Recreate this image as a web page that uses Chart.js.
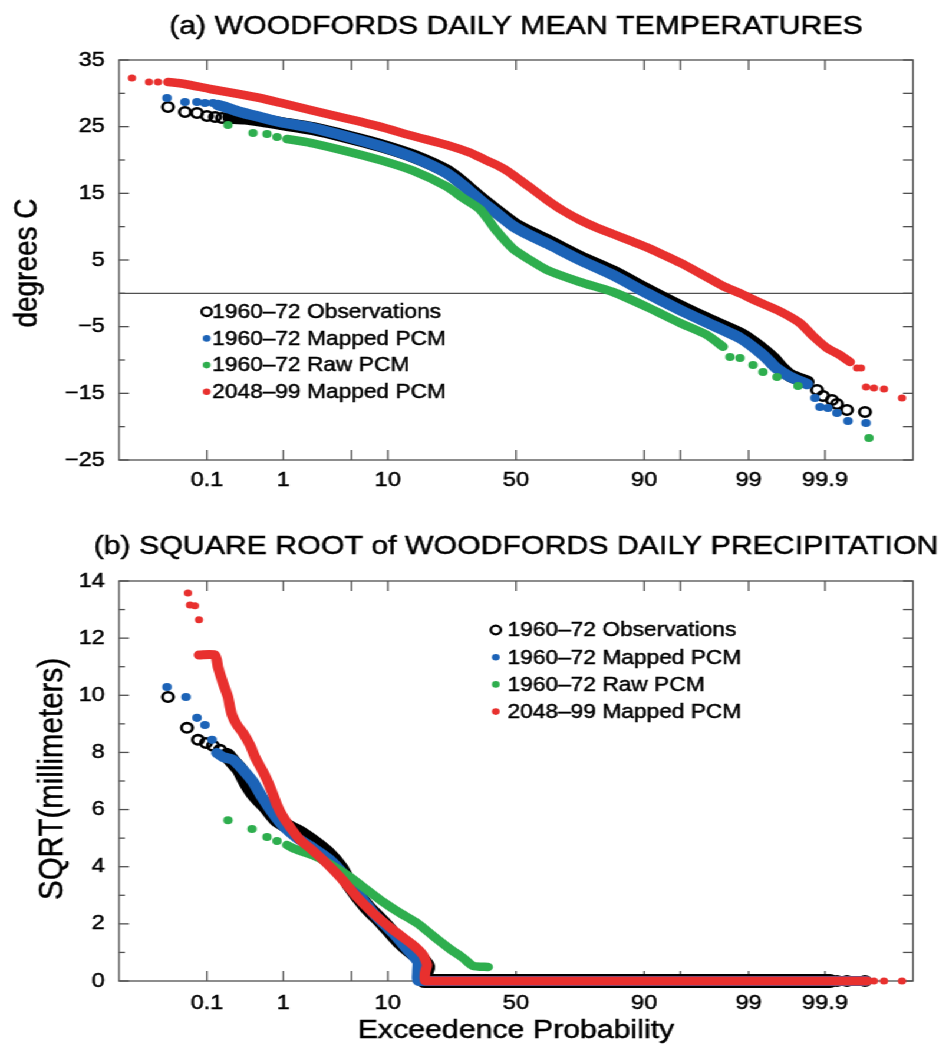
<!DOCTYPE html>
<html><head><meta charset="utf-8">
<script src="https://cdn.jsdelivr.net/npm/chart.js@4.4.1/dist/chart.umd.min.js"></script>
<style>
html,body{margin:0;padding:0;background:#fff;overflow:hidden;}
#wrap{position:absolute;left:0;top:0;width:805px;height:1045px;transform:scaleX(1.17888);transform-origin:0 0;}
.box{position:relative;width:805px;}
canvas{display:block;}
</style></head><body>
<div id="wrap">
 <div class="box" style="height:520px"><canvas id="c1" width="805" height="520"></canvas></div>
 <div class="box" style="height:525px"><canvas id="c2" width="805" height="525"></canvas></div>
</div>
<script>
// ---- axis definitions ----
const PROB_TICKS = [0.1, 1, 5, 10, 50, 90, 95, 99, 99.9];           // exceedence probability, %
const PROB_TICK_LABELS = ['0.1', '1', '', '10', '50', '90', '', '99', '99.9'];
const TEMP_Y_TICKS = [-25, -15, -5, 5, 15, 25, 35];
const TEMP_Y_MINOR = [-20, -10, 0, 10, 20, 30];
const PRECIP_Y_TICKS = [0, 2, 4, 6, 8, 10, 12, 14];
const PRECIP_Y_MINOR = [1, 3, 5, 7, 9, 11, 13];
const LEGEND_LABELS = ['1960\u201372 Observations', '1960\u201372 Mapped PCM', '1960\u201372 Raw PCM', '2048\u201399 Mapped PCM'];

// ---- data: [normal score of exceedence probability, value] ----
// (a) daily mean temperature, degrees C
const tempObsCurve = [[-2.86,26.4],[-2.71,26.3],[-2.56,26.0],[-2.36,25.5],[-2.03,24.7],[-1.69,23.5],[-1.36,22.2],[-1.03,20.6],[-0.69,18.3],[-0.53,16.5],[-0.36,14.3],[-0.19,12.3],[-0.03,10.5],[0.14,9.1],[0.31,7.9],[0.64,5.4],[0.97,3.2],[1.31,0.5],[1.64,-2.0],[1.91,-3.9],[2.24,-6.1],[2.41,-7.8],[2.57,-9.8],[2.64,-11.0],[2.74,-12.3],[2.91,-13.3]];
const tempObsTails = [[-3.48,27.95],[-3.31,27.2],[-3.19,27.05],[-3.09,26.6],[-3.01,26.45],[-2.94,26.3],[3.01,-14.5],[3.07,-15.4],[3.16,-16.0],[3.21,-16.6],[3.31,-17.5],[3.49,-17.8]];
const tempMappedCurve = [[-2.98,28.25],[-2.91,27.95],[-2.76,27.2],[-2.56,26.45],[-2.36,25.7],[-2.03,24.8],[-1.69,23.5],[-1.36,22.1],[-1.03,20.4],[-0.69,18.0],[-0.53,16.2],[-0.36,14.0],[-0.19,12.0],[-0.03,10.1],[0.14,8.7],[0.31,7.5],[0.64,5.0],[0.97,2.75],[1.31,0.0],[1.64,-2.5],[1.91,-4.4],[2.24,-6.7],[2.47,-9.25],[2.61,-11.3],[2.74,-12.5],[2.91,-13.6]];
const tempMappedTails = [[-3.49,29.3],[-3.31,28.7],[-3.19,28.7],[-3.11,28.55],[-3.03,28.55],[2.99,-15.7],[3.04,-17.05],[3.12,-17.2],[3.21,-17.95],[3.32,-19.15],[3.50,-19.45]];
const tempRawCurve = [[-2.29,23.15],[-2.16,22.85],[-2.03,22.5],[-1.69,21.3],[-1.36,20.0],[-1.03,18.4],[-0.69,16.0],[-0.53,14.3],[-0.36,12.6],[-0.19,9.3],[-0.03,6.7],[0.14,5.0],[0.31,3.5],[0.64,1.7],[0.97,0.2],[1.31,-2.05],[1.64,-4.45],[1.91,-6.25],[2.07,-8.0]];
const tempRawTails = [[-2.88,25.25],[-2.63,24.05],[-2.49,23.9],[-2.39,23.45],[2.14,-9.55],[2.24,-9.7],[2.37,-10.75],[2.47,-11.8],[2.61,-12.55],[2.82,-13.9],[3.53,-21.7]];
const tempFutureCurve = [[-3.48,31.7],[-3.38,31.55],[-3.26,31.25],[-3.06,30.65],[-2.83,30.05],[-2.56,29.3],[-2.36,28.6],[-2.03,27.4],[-1.69,26.2],[-1.36,25.0],[-1.03,23.6],[-0.69,22.25],[-0.46,21.1],[-0.36,20.4],[-0.2,19.3],[-0.08,18.3],[0.04,17.0],[0.14,15.9],[0.31,14.0],[0.47,12.4],[0.64,11.0],[0.8,9.9],[0.97,8.9],[1.14,7.9],[1.31,6.9],[1.47,5.8],[1.64,4.6],[1.84,3.0],[2.07,1.1],[2.24,0.0],[2.41,-1.2],[2.64,-2.7],[2.84,-4.45],[2.97,-6.4],[3.11,-8.2],[3.24,-9.25],[3.34,-10.3]];
const tempFutureTails = [[-3.84,32.3],[-3.67,31.7],[-3.58,31.7],[3.41,-11.2],[3.45,-11.2],[3.50,-14.05],[3.58,-14.2],[3.68,-14.35],[3.86,-15.7]];

// (b) square root of daily precipitation, sqrt(mm)
const precipObsCurve = [[-2.89,7.91],[-2.83,7.67],[-2.76,7.39],[-2.69,6.93],[-2.61,6.51],[-2.49,6.06],[-2.39,5.64],[-2.26,5.36],[-2.16,5.18],[-2.03,4.87],[-1.89,4.48],[-1.76,3.96],[-1.66,3.36],[-1.49,2.59],[-1.33,2.03],[-1.16,1.37],[-1.03,0.98],[-0.94,0.74],[-0.89,0.49],[-0.91,0.28],[-0.91,0],[3.14,0]];
const precipObsTails = [[-3.48,9.94],[-3.29,8.86],[-3.18,8.44],[-3.10,8.33],[-3.03,8.23],[-2.96,8.09],[3.21,0],[3.31,0],[3.49,0]];
const precipMappedCurve = [[-2.99,7.98],[-2.93,7.84],[-2.83,7.74],[-2.73,7.39],[-2.63,6.97],[-2.54,6.44],[-2.44,5.92],[-2.33,5.43],[-2.19,5.01],[-2.03,4.66],[-1.86,4.24],[-1.71,3.68],[-1.56,2.98],[-1.41,2.31],[-1.23,1.68],[-1.09,1.12],[-0.98,0.67],[-0.98,0.32],[-0.97,0],[3.50,0]];
const precipMappedTails = [[-3.49,10.29],[-3.30,9.94],[-3.19,9.21],[-3.11,8.96],[-3.04,8.44]];
const precipRawCurve = [[-2.29,4.76],[-2.23,4.65],[-2.13,4.52],[-1.99,4.34],[-1.83,4.03],[-1.66,3.64],[-1.49,3.19],[-1.33,2.77],[-1.16,2.38],[-0.99,2.03],[-0.83,1.58],[-0.66,1.12],[-0.53,0.81],[-0.43,0.53],[-0.28,0.49]];
const precipRawTails = [[-2.88,5.63],[-2.64,5.32],[-2.49,5.04],[-2.39,4.90]];
const precipFutureCurve = [[-3.17,11.41],[-3.01,11.41],[-2.98,10.99],[-2.93,10.43],[-2.88,9.94],[-2.86,9.59],[-2.84,9.31],[-2.79,8.96],[-2.73,8.68],[-2.66,8.26],[-2.61,7.84],[-2.54,7.39],[-2.49,7.04],[-2.44,6.62],[-2.39,6.16],[-2.34,5.81],[-2.26,5.39],[-2.16,4.94],[-2.04,4.59],[-1.93,4.24],[-1.76,3.64],[-1.59,2.94],[-1.43,2.38],[-1.23,1.79],[-1.03,1.26],[-0.93,0.91],[-0.89,0.56],[-0.91,0.28],[-0.90,0],[3.51,0]];
const precipFutureTails = [[-3.28,13.58],[-3.26,13.16],[-3.21,13.13],[-3.17,12.64],[3.58,0],[3.68,0],[3.86,0]];

// ---- styles ----
const FONT = '"Liberation Sans", Arial, Helvetica, sans-serif';
const C_OBS = '#000000', C_MAP = '#1c63b7', C_RAW = '#2eae4e', C_FUT = '#e8302e';
const AXIS_C = '#505050';
const TEXT_STROKE = 0.45;

function probit(p) {
  const a=[-3.969683028665376e+01,2.209460984245205e+02,-2.759285104469687e+02,1.383577518672690e+02,-3.066479806614716e+01,2.506628277459239e+00];
  const b=[-5.447609879822406e+01,1.615858368580409e+02,-1.556989798598866e+02,6.680131188771972e+01,-1.328068155288572e+01];
  const c=[-7.784894002430293e-03,-3.223964580411365e-01,-2.400758277161838e+00,-2.549732539343734e+00,4.374664141464968e+00,2.938163982698783e+00];
  const d=[7.784695709041462e-03,3.224671290700398e-01,2.445134137142996e+00,3.754408661907416e+00];
  const pl=0.02425, ph=1-pl; let q, r;
  if (p < pl) { q=Math.sqrt(-2*Math.log(p)); return (((((c[0]*q+c[1])*q+c[2])*q+c[3])*q+c[4])*q+c[5])/((((d[0]*q+d[1])*q+d[2])*q+d[3])*q+1); }
  if (p > ph) { q=Math.sqrt(-2*Math.log(1-p)); return -(((((c[0]*q+c[1])*q+c[2])*q+c[3])*q+c[4])*q+c[5])/((((d[0]*q+d[1])*q+d[2])*q+d[3])*q+1); }
  q=p-0.5; r=q*q;
  return (((((a[0]*r+a[1])*r+a[2])*r+a[3])*r+a[4])*r+a[5])*q/(((((b[0]*r+b[1])*r+b[2])*r+b[3])*r+b[4])*r+1);
}

const xy = arr => arr.map(([x, y]) => ({x, y}));
function band(arr, color, w, order) {
  return {data: xy(arr), showLine: true, borderColor: color, borderWidth: w, pointRadius: 0, pointHoverRadius: 0,
    borderCapStyle: 'round', borderJoinStyle: 'round', tension: 0.2, order, clip: false};
}
function dots(arr, color, r, order) {
  return {data: xy(arr), showLine: false, pointRadius: r, pointHoverRadius: r, backgroundColor: color, pointBackgroundColor: color,
    pointBorderWidth: 0, pointBorderColor: color, order, clip: false};
}
function rings(arr, r, w, order) {
  return {data: xy(arr), showLine: false, pointRadius: r, pointHoverRadius: r, pointBackgroundColor: 'rgba(0,0,0,0)',
    pointBorderColor: C_OBS, pointBorderWidth: w, order, clip: false};
}

function text(ctx, s, x, y) {
  ctx.fillText(s, x, y);
  ctx.strokeText(s, x, y);
}

const decoPlugin = {
  id: 'deco',
  beforeDatasetsDraw(chart, args, o) {
    const ctx = chart.ctx, a = chart.chartArea, xs = chart.scales.x, ys = chart.scales.y;
    ctx.save();
    ctx.strokeStyle = AXIS_C; ctx.lineWidth = 1.3;
    const seg = (x1, y1, x2, y2) => { ctx.beginPath(); ctx.moveTo(x1, y1); ctx.lineTo(x2, y2); ctx.stroke(); };
    if (o.zeroLine) { const y0 = ys.getPixelForValue(0); seg(a.left, y0, a.right, y0); }
    xs.ticks.forEach(t => { const px = xs.getPixelForValue(t.value); seg(px, a.bottom, px, a.bottom - 10); seg(px, a.top, px, a.top + 10); });
    ys.ticks.forEach(t => { const py = ys.getPixelForValue(t.value); seg(a.left, py, a.left + 8.5, py); seg(a.right, py, a.right - 8.5, py); });
    o.yMinor.forEach(v => { const py = ys.getPixelForValue(v); seg(a.left, py, a.left + 5, py); seg(a.right, py, a.right - 8.5, py); });
    ctx.strokeRect(a.left, a.top, a.right - a.left, a.bottom - a.top);
    ctx.restore();
  },
  afterDraw(chart, args, o) {
    const ctx = chart.ctx, a = chart.chartArea;
    const cx = (a.left + a.right) / 2;
    ctx.save();
    ctx.fillStyle = '#000'; ctx.strokeStyle = '#000'; ctx.lineWidth = TEXT_STROKE;
    ctx.textAlign = 'center'; ctx.textBaseline = 'alphabetic';
    ctx.font = `25.7px ${FONT}`;
    text(ctx, o.title, cx, o.titleY);
    if (o.xTitle) text(ctx, o.xTitle, cx, o.xTitleY);
    ctx.save();
    ctx.translate(o.yTitleX, o.yTitleY); ctx.rotate(-Math.PI / 2);
    ctx.font = `${o.yTitleSize}px ${FONT}`;
    text(ctx, o.yTitle, 0, 0);
    ctx.restore();
    // legend
    const L = o.legend;
    const colors = [C_OBS, C_MAP, C_RAW, C_FUT];
    ctx.font = `19.3px ${FONT}`; ctx.textAlign = 'left'; ctx.textBaseline = 'middle';
    LEGEND_LABELS.forEach((lab, i) => {
      const y = L.y + i * L.step;
      ctx.beginPath();
      if (i === 0) {
        ctx.arc(L.mx, y, 4.3, 0, Math.PI * 2); ctx.strokeStyle = C_OBS; ctx.lineWidth = 2.3; ctx.stroke();
      } else {
        ctx.arc(L.mx, y, 3.3, 0, Math.PI * 2); ctx.fillStyle = colors[i]; ctx.fill();
      }
      ctx.fillStyle = '#000'; ctx.strokeStyle = '#000'; ctx.lineWidth = TEXT_STROKE;
      text(ctx, lab, L.tx, y + 1);
    });
    ctx.restore();
  }
};

function xScale(pad, height) {
  return {
    type: 'linear', min: -3.97, max: 3.97,
    afterBuildTicks: s => { s.ticks = PROB_TICKS.map(p => ({value: probit(p / 100)})); },
    afterFit: s => { s.height = height; },
    ticks: {autoSkip: false, maxRotation: 0, minRotation: 0, color: '#000', font: {family: FONT, size: 20}, padding: pad,
      textStrokeColor: '#000', textStrokeWidth: TEXT_STROKE,
      callback: (v, i) => PROB_TICK_LABELS[i]},
    grid: {display: false, drawTicks: false}, border: {display: false}
  };
}
function yScale(min, max, ticks) {
  return {
    type: 'linear', min, max,
    afterBuildTicks: s => { s.ticks = ticks.map(v => ({value: v})); },
    afterFit: s => { s.width = 100.94; },
    ticks: {color: '#000', font: {family: FONT, size: 20}, padding: 12,
      textStrokeColor: '#000', textStrokeWidth: TEXT_STROKE,
      callback: v => String(v).replace('-', '\u2212')},
    grid: {display: false, drawTicks: false}, border: {display: false}
  };
}
const commonPlugins = {legend: {display: false}, tooltip: {enabled: false}, title: {display: false}};

// (a) temperature chart
new Chart(document.getElementById('c1'), {
  type: 'scatter',
  data: {datasets: [
    band(tempFutureCurve, C_FUT, 8.5, 1), dots(tempFutureTails, C_FUT, 3.5, 1),
    band(tempRawCurve, C_RAW, 8.5, 2), dots(tempRawTails, C_RAW, 4, 2),
    band(tempMappedCurve, C_MAP, 10.5, 3), dots(tempMappedTails, C_MAP, 4.1, 3),
    band(tempObsCurve, C_OBS, 13, 4), rings(tempObsTails, 4.7, 2.6, 4)
  ]},
  options: {
    responsive: false, animation: false, events: [],
    layout: {padding: {top: 60, right: 30.54, left: 0, bottom: 0}},
    scales: {x: xScale(8, 60), y: yScale(-25, 35, TEMP_Y_TICKS)},
    plugins: Object.assign({}, commonPlugins, {deco: {
      title: '(a) WOODFORDS DAILY MEAN TEMPERATURES', titleY: 33.5,
      yTitle: 'degrees C', yTitleX: 31.4, yTitleY: 263, yTitleSize: 28,
      zeroLine: true, yMinor: TEMP_Y_MINOR,
      legend: {mx: 175.3, tx: 180, y: 311.7, step: 26.7}
    }})
  },
  plugins: [decoPlugin]
});

// (b) precipitation chart
new Chart(document.getElementById('c2'), {
  type: 'scatter',
  data: {datasets: [
    band(precipFutureCurve, C_FUT, 9, 1), dots(precipFutureTails, C_FUT, 3.5, 1),
    band(precipRawCurve, C_RAW, 8.5, 2), dots(precipRawTails, C_RAW, 4, 2),
    band(precipMappedCurve, C_MAP, 10, 3), dots(precipMappedTails, C_MAP, 4.1, 3),
    band(precipObsCurve, C_OBS, 14, 4), rings(precipObsTails, 4.7, 2.6, 4)
  ]},
  options: {
    responsive: false, animation: false, events: [],
    layout: {padding: {top: 61, right: 30.54, left: 0, bottom: 0}},
    scales: {x: xScale(10, 64), y: yScale(0, 14, PRECIP_Y_TICKS)},
    plugins: Object.assign({}, commonPlugins, {deco: {
      title: '(b) SQUARE ROOT of WOODFORDS DAILY PRECIPITATION', titleY: 34,
      xTitle: 'Exceedence Probability', xTitleY: 518,
      yTitle: 'SQRT(millimeters)', yTitleX: 52.6, yTitleY: 259, yTitleSize: 29.5,
      zeroLine: false, yMinor: PRECIP_Y_MINOR,
      legend: {mx: 420.6, tx: 430.5, y: 110, step: 27.2}
    }})
  },
  plugins: [decoPlugin]
});
</script>
</body></html>
